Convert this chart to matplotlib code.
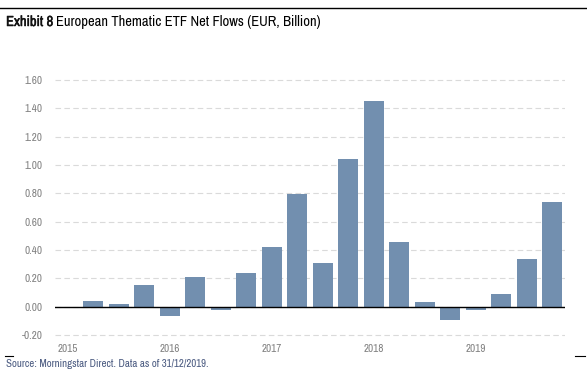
import matplotlib
matplotlib.use("Agg")
import matplotlib.pyplot as plt
import matplotlib.patheffects as pe
from matplotlib import font_manager

quarters = list(range(20))
values = [0.0, 0.04, 0.02, 0.155, -0.066, 0.21, -0.026, 0.236, 0.42, 0.795,
          0.31, 1.045, 1.45, 0.458, 0.035, -0.094, -0.026, 0.087, 0.333, 0.74]
year_ticks = [0, 4, 8, 12, 16]
year_labels = ["2015", "2016", "2017", "2018", "2019"]
y_ticks = [-0.2, 0.0, 0.2, 0.4, 0.6, 0.8, 1.0, 1.2, 1.4, 1.6]

narrow = [f for f in font_manager.fontManager.ttflist if "Narrow" in f.name]
FONT = dict(family=narrow[0].name) if narrow else dict(family="Liberation Sans")

W, H = 587, 373
fig = plt.figure(figsize=(W / 100, H / 100), dpi=100)

ax = fig.add_axes([55 / W, (H - 342) / H, 510 / W, (342 - 73) / H])
ax.bar(quarters, values, width=0.78, color="#728faf", zorder=3)
ax.set_xlim(-0.5, 19.5)
ax.set_ylim(-0.25, 1.65)
ax.set_yticks(y_ticks)
ax.set_yticklabels([f"{v:.2f}" for v in y_ticks])
ax.set_xticks(year_ticks)
ax.set_xticklabels(year_labels)
ax.grid(axis="y", color="#dadada", linestyle=(0, (5, 3)), linewidth=0.8, zorder=0)
ax.axhline(0, color="black", linewidth=1.0, zorder=4)
for s in ax.spines.values():
    s.set_visible(False)
ax.tick_params(axis="both", length=0, labelsize=8, labelcolor="#808080")
ax.tick_params(axis="y", pad=9)
ax.tick_params(axis="x", pad=1.5)
for lbl in ax.get_xticklabels() + ax.get_yticklabels():
    lbl.set(**FONT)

fig.add_artist(plt.Line2D([0, 1], [(H - 8) / H, (H - 8) / H], color="black", linewidth=1.0))
fig.add_artist(plt.Line2D([5 / W, 13 / W], [(H - 356) / H] * 2, color="black", linewidth=0.8))
fig.add_artist(plt.Line2D([575 / W, 585 / W], [(H - 356) / H] * 2, color="black", linewidth=0.8))

t1 = fig.text(6 / W, (H - 22) / H, "Exhibit 8", fontsize=10.5, fontweight="bold",
              va="center", ha="left", color="#111111", **FONT)
t1.set_path_effects([pe.withStroke(linewidth=0.35, foreground="#111111")])
fig.canvas.draw()
bb = t1.get_window_extent()
fig.text((bb.x1 + 3) / W, (H - 22) / H, "European Thematic ETF Net Flows (EUR, Billion)",
         fontsize=10.5, va="center", ha="left", color="black", **FONT)
fig.text(6 / W, (H - 364) / H, "Source: Morningstar Direct. Data as of 31/12/2019.",
         fontsize=7.8, va="center", ha="left", color="#4a5a80", **FONT)

fig.savefig("out.png", dpi=100)
